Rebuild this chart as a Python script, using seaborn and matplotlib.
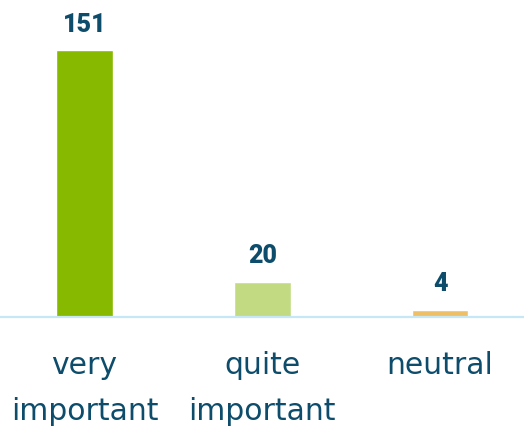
import matplotlib
matplotlib.use("Agg")
import matplotlib.pyplot as plt
import seaborn as sns
import pandas as pd

categories = ["very\nimportant", "quite\nimportant", "neutral"]
values = [151, 20, 4]
colors = ["#86b900", "#c2db82", "#efbf68"]
text_color = "#0d4d6b"

sns.set_style("white")
plt.rcParams["font.family"] = ["DejaVu Sans"]

df = pd.DataFrame({"category": categories, "value": values})

fig = plt.figure(figsize=(5.24, 4.27), dpi=100)
H = 427.0
W = 524.0
base_px = 318.0
ax = fig.add_axes([0, (H - base_px) / H, 1, base_px / H])

sns.barplot(data=df, x="category", y="value", hue="category",
            palette=colors, dodge=False, legend=False, width=0.32,
            saturation=1, ax=ax)

k = 177.75
xmin = -84.5 / k
ax.set_xlim(xmin, xmin + W / k)
ax.set_ylim(0, base_px / 1.768)

for i, v in enumerate(values):
    ax.annotate(str(v), (i, v), xytext=(0, 14.0), textcoords="offset points",
                ha="center", va="baseline", fontsize=18, fontweight="heavy",
                family="Roboto", color=text_color)

for s in ["top", "right", "left"]:
    ax.spines[s].set_visible(False)
ax.spines["bottom"].set_color("#c6e7f6")
ax.spines["bottom"].set_linewidth(1.6)
ax.set_yticks([])
ax.set_xlabel("")
ax.set_ylabel("")
ax.tick_params(axis="x", length=0, pad=24, labelsize=21.5, labelcolor=text_color)
for lab in ax.get_xticklabels():
    lab.set_linespacing(1.72)

fig.savefig("out.png", dpi=100, facecolor="white")
